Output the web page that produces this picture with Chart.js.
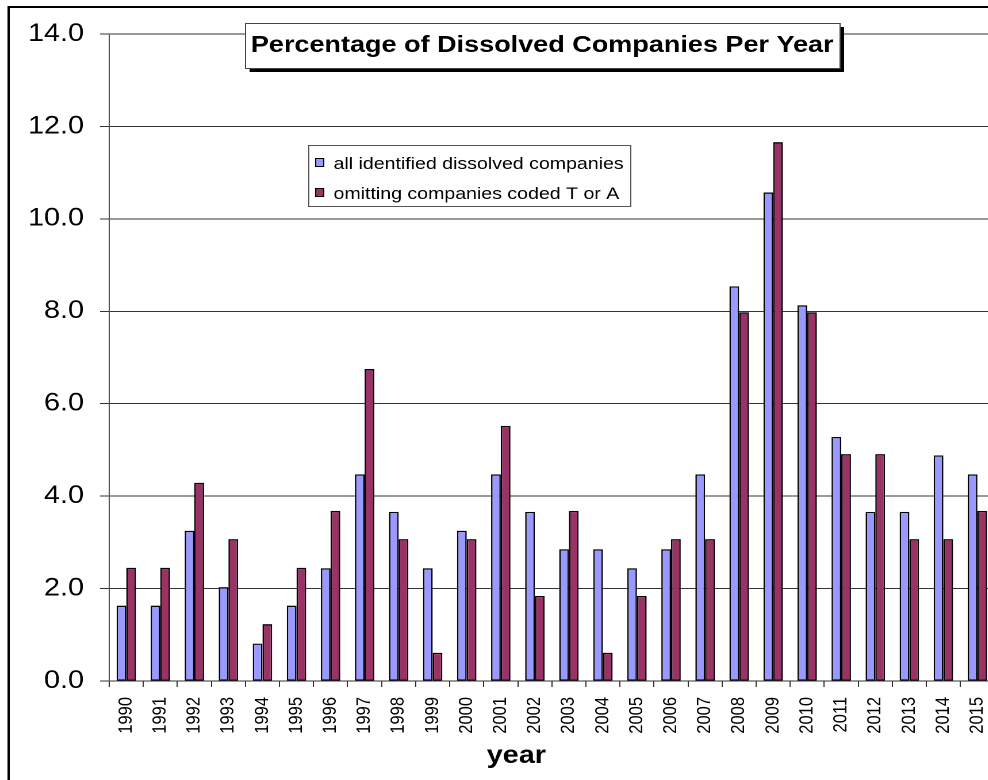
<!DOCTYPE html>
<html>
<head>
<meta charset="utf-8">
<script src="https://cdn.jsdelivr.net/npm/chart.js@4/dist/chart.umd.min.js"></script>
<style>
  html, body { margin: 0; padding: 0; background: #fff; overflow: hidden; width: 988px; height: 780px; }
  /* the chart is laid out narrow and widened horizontally, like the original export */
  #wrap { width: 880px; height: 780px; transform: scaleX(1.15); transform-origin: 0 0; }
  canvas { display: block; }
</style>
</head>
<body>
<div id="wrap"><canvas id="c" width="880" height="780"></canvas></div>
<script>
const years = ['1990','1991','1992','1993','1994','1995','1996','1997','1998','1999',
               '2000','2001','2002','2003','2004','2005','2006','2007','2008','2009',
               '2010','2011','2012','2013','2014','2015'];

// percentage of all identified dissolved companies
const allDissolved = [1.63, 1.63, 3.25, 2.03, 0.81, 1.63, 2.44, 4.47, 3.66, 2.44,
                      3.25, 4.47, 3.66, 2.85, 2.85, 2.44, 2.85, 4.47, 8.54, 10.57,
                      8.13, 5.28, 3.66, 3.66, 4.88, 4.47];

// percentage when companies coded T or A are left out
const omittingTA = [2.45, 2.45, 4.29, 3.07, 1.23, 2.45, 3.68, 6.75, 3.07, 0.61,
                    3.07, 5.52, 1.84, 3.68, 0.61, 1.84, 3.07, 3.07, 7.98, 11.66,
                    7.98, 4.91, 4.91, 3.07, 3.07, 3.68];

const yTicks = [0, 2, 4, 6, 8, 10, 12, 14];
const seriesNames = ['all identified dissolved companies', 'omitting companies coded T or A'];
const chartTitle = 'Percentage of Dissolved Companies Per Year';
const axisTitle = 'year';

const FONT = '"Liberation Sans", Arial, Helvetica, sans-serif';

// white page with the outer frame
const frame = {
  id: 'frame',
  beforeDraw(chart) {
    const ctx = chart.ctx;
    ctx.save();
    ctx.fillStyle = '#fff';
    ctx.fillRect(0, 0, chart.width, chart.height);
    ctx.strokeStyle = '#000';
    ctx.lineWidth = 2;
    ctx.strokeRect(7.5, 7, chart.width + 20, chart.height + 20);
    ctx.restore();
  }
};

// boxed title with drop shadow, boxed legend, x axis caption
const overlays = {
  id: 'overlays',
  afterDraw(chart) {
    const ctx = chart.ctx;
    ctx.save();

    // title box
    const tx = 213, ty = 23, tw = 517, th = 45;
    ctx.fillStyle = '#000';
    ctx.fillRect(tx + 4, ty + 4, tw, th);
    ctx.fillStyle = '#fff';
    ctx.fillRect(tx, ty, tw, th);
    ctx.strokeStyle = '#444';
    ctx.lineWidth = 1;
    ctx.strokeRect(tx + 0.5, ty + 0.5, tw, th);
    ctx.fillStyle = '#000';
    ctx.font = 'bold 23.5px ' + FONT;
    ctx.textAlign = 'center';
    ctx.textBaseline = 'alphabetic';
    ctx.fillText(chartTitle, tx + tw / 2, 52);

    // legend box
    const lx = 268, ly = 145, lw = 280, lh = 61;
    ctx.fillStyle = '#fff';
    ctx.fillRect(lx, ly, lw, lh);
    ctx.strokeStyle = '#555';
    ctx.strokeRect(lx + 0.5, ly + 0.5, lw, lh);
    ctx.font = '17px ' + FONT;
    ctx.textAlign = 'left';
    chart.data.datasets.forEach((ds, i) => {
      const cy = 158 + i * 30;
      ctx.fillStyle = ds.backgroundColor;
      ctx.fillRect(274, cy, 7, 8);
      ctx.strokeStyle = '#000';
      ctx.strokeRect(274.5, cy + 0.5, 7, 8);
      ctx.fillStyle = '#000';
      ctx.fillText(ds.label, 290, 169 + i * 30);
    });

    // x axis caption
    ctx.font = 'bold 25px ' + FONT;
    ctx.textAlign = 'center';
    ctx.fillText(axisTitle, 449, 763);

    ctx.restore();
  }
};

new Chart(document.getElementById('c'), {
  type: 'bar',
  data: {
    labels: years,
    datasets: [
      { label: seriesNames[0], data: allDissolved, backgroundColor: '#9999FF',
        borderColor: '#000', borderWidth: 1.3, borderSkipped: false },
      { label: seriesNames[1], data: omittingTA, backgroundColor: '#993366',
        borderColor: '#000', borderWidth: 1.3, borderSkipped: false }
    ]
  },
  options: {
    responsive: false,
    animation: false,
    devicePixelRatio: 2,
    layout: { padding: { left: 0, top: 34, right: 14, bottom: 0 } },
    datasets: { bar: { categoryPercentage: 0.57, barPercentage: 1 } },
    plugins: {
      legend: { display: false },
      title: { display: false },
      tooltip: { enabled: false }
    },
    scales: {
      x: {
        offset: true,
        grid: { display: true, drawOnChartArea: false, drawTicks: true, tickLength: 6,
                color: '#333', offset: true },
        border: { color: '#333' },
        ticks: { minRotation: 90, maxRotation: 90, autoSkip: false, padding: 10,
                 color: '#000', font: { family: FONT, size: 16.5 } },
        afterFit(scale) { scale.height = 99; }
      },
      y: {
        min: 0,
        max: 14,
        afterBuildTicks(scale) { scale.ticks = yTicks.map(v => ({ value: v })); },
        grid: { color: '#333', tickLength: 8 },
        border: { color: '#555' },
        ticks: { padding: 14, color: '#000', font: { family: FONT, size: 25 },
                 callback: v => Number(v).toFixed(1) },
        afterFit(scale) { scale.width = 95; }
      }
    }
  },
  plugins: [frame, overlays]
});
</script>
</body>
</html>
